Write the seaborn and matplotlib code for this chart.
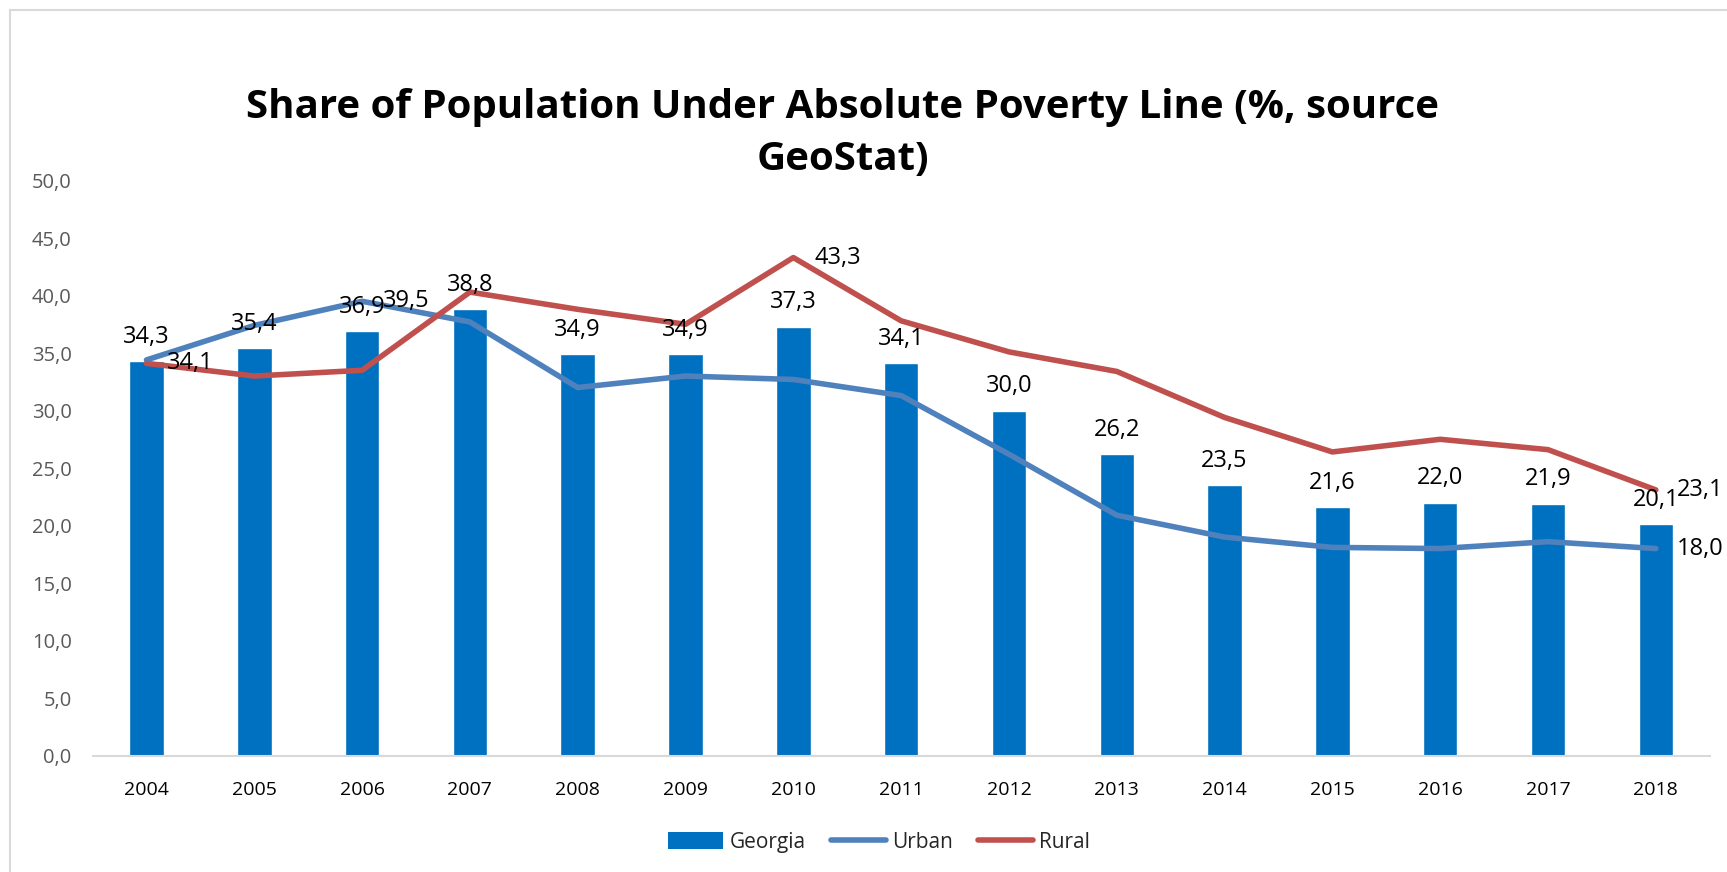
import matplotlib
matplotlib.use("Agg")
import matplotlib.pyplot as plt
from matplotlib.patches import Rectangle
from matplotlib.lines import Line2D
from matplotlib.patches import Patch
import numpy as np
import pandas as pd
import seaborn as sns

years = [2004, 2005, 2006, 2007, 2008, 2009, 2010, 2011, 2012, 2013, 2014, 2015, 2016, 2017, 2018]
georgia = [34.3, 35.4, 36.9, 38.8, 34.9, 34.9, 37.3, 34.1, 30.0, 26.2, 23.5, 21.6, 22.0, 21.9, 20.1]
urban = [34.4, 37.4, 39.5, 37.7, 32.0, 33.0, 32.7, 31.3, 26.2, 20.9, 19.0, 18.1, 18.0, 18.6, 18.0]
rural = [34.1, 33.0, 33.5, 40.3, 38.8, 37.5, 43.3, 37.8, 35.1, 33.4, 29.4, 26.4, 27.5, 26.6, 23.1]
# line points that carry a value label (year index)
urban_labelled = [2, 14]
rural_labelled = [0, 6, 14]

BAR_C = "#0070C0"
URB_C = "#4F81BD"
RUR_C = "#C0504D"
FONT = ["Open Sans", "DejaVu Sans"]

sns.set_theme(style="white")
plt.rcParams["font.family"] = FONT


def fmt(v):
    return f"{v:.1f}".replace(".", ",")


df = pd.DataFrame({
    "year": [str(y) for y in years],
    "pos": np.arange(len(years)),
    "Georgia": georgia,
    "Urban": urban,
    "Rural": rural,
})

fig = plt.figure(figsize=(17.27, 8.72), dpi=100)
ax = fig.add_axes([0.0536, 0.1335, 0.9364, 0.6595])

sns.barplot(data=df, x="year", y="Georgia", color=BAR_C, saturation=1,
            width=0.32, ax=ax)
sns.lineplot(data=df, x="pos", y="Urban", color=URB_C, linewidth=4,
             ax=ax, solid_capstyle="round", solid_joinstyle="round")
sns.lineplot(data=df, x="pos", y="Rural", color=RUR_C, linewidth=4,
             ax=ax, solid_capstyle="round", solid_joinstyle="round")

ax.bar_label(ax.containers[0], labels=[fmt(v) for v in georgia],
             padding=9, fontsize=17, color="black")

for i in urban_labelled:
    ax.annotate(fmt(urban[i]), (i, urban[i]), xytext=(15, 0),
                textcoords="offset points", ha="left", va="center",
                fontsize=17, color="black")
for i in rural_labelled:
    ax.annotate(fmt(rural[i]), (i, rural[i]), xytext=(15, 0),
                textcoords="offset points", ha="left", va="center",
                fontsize=17, color="black")

ax.set_xlim(-0.5, len(years) - 0.5)
ax.set_ylim(0, 50)
ax.set_yticks(np.arange(0, 50.1, 5))
ax.set_yticklabels([fmt(v) for v in np.arange(0, 50.1, 5)])
ax.set_xticks(np.arange(len(years)))
ax.set_xticklabels([str(y) for y in years])
ax.set_xlabel("")
ax.set_ylabel("")
ax.tick_params(axis="y", labelsize=14.5, labelcolor="#595959", length=0, pad=15)
ax.tick_params(axis="x", labelsize=14, labelcolor="black", length=0, pad=18)
for side in ["top", "right", "left"]:
    ax.spines[side].set_visible(False)
ax.spines["bottom"].set_color("#D9D9D9")
ax.spines["bottom"].set_linewidth(1.5)
ax.grid(False)

fig.text(0.488, 0.847, "Share of Population Under Absolute Poverty Line (%, source\nGeoStat)",
         ha="center", va="center", fontsize=29, fontweight="bold",
         linespacing=1.45, color="black")

handles = [
    Patch(facecolor=BAR_C, edgecolor="none"),
    Line2D([0], [0], color=URB_C, linewidth=4, solid_capstyle="round"),
    Line2D([0], [0], color=RUR_C, linewidth=4, solid_capstyle="round"),
]
fig.legend(handles, ["Georgia", "Urban", "Rural"], loc="center",
           bbox_to_anchor=(0.509, 0.034), ncol=3, frameon=False,
           fontsize=15, handlelength=2.65, handleheight=0.9,
           columnspacing=1.2, handletextpad=0.3)

# chart-area outline
fig.patches.append(Rectangle((10 / 1727, -0.1), 1.2, 1 - 10 / 872 + 0.1,
                             transform=fig.transFigure, fill=False,
                             edgecolor="#D9D9D9", linewidth=1.5))

fig.savefig("out.png", dpi=100, facecolor="white")
